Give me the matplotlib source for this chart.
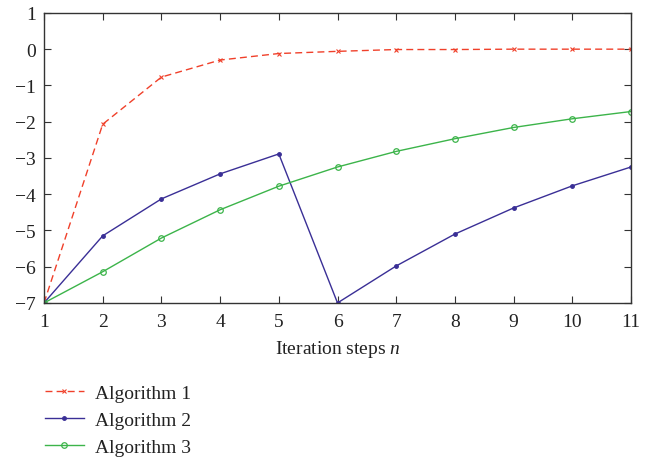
import numpy as np
import matplotlib.pyplot as plt

plt.rcParams['font.family'] = ['Liberation Serif', 'DejaVu Serif']
plt.rcParams['mathtext.fontset'] = 'custom'
plt.rcParams['mathtext.it'] = 'Liberation Serif:italic'

steps = np.arange(1, 12)
algo1 = [-7.0, -2.07, -0.77, -0.30, -0.12, -0.06, -0.01, -0.01, 0.0, 0.0, 0.0]
algo2 = [-7.0, -5.15, -4.13, -3.44, -2.89, -7.0, -5.98, -5.10, -4.38, -3.77, -3.25]
algo3 = [-7.0, -6.14, -5.21, -4.43, -3.78, -3.25, -2.82, -2.47, -2.16, -1.92, -1.72]

fig = plt.figure(figsize=(6.51, 4.64), dpi=100)
ax = fig.add_axes([0.0676, 0.345, 0.9017, 0.625])

l1, = ax.plot(steps, algo1, color='#f0402a', ls=(0, (5, 3)), lw=1.0,
              marker='x', ms=3, mew=0.8, label='Algorithm 1')
l2, = ax.plot(steps, algo2, color='#3a2f96', lw=1.0,
              marker='o', ms=2.5, label='Algorithm 2')
l3, = ax.plot(steps, algo3, color='#3cb44a', lw=1.0,
              marker='o', ms=4, mfc='none', mew=0.9, label='Algorithm 3')

ax.set_xlim(1, 11)
ax.set_ylim(-7, 1)
ax.set_xticks(steps)
ax.set_yticks(np.arange(-7, 2))
ax.set_yticklabels(['\u22127', '\u22126', '\u22125', '\u22124', '\u22123',
                    '\u22122', '\u22121', '0', '1'])
ax.tick_params(direction='in', top=True, right=True, labelsize=14,
               length=5, width=0.8, color='#333333', labelcolor='#222222')
ax.tick_params(axis='x', pad=7)
ax.tick_params(axis='y', pad=6)
for s in ax.spines.values():
    s.set_linewidth(1.0)
    s.set_color('#333333')
ax.set_xlabel('Iteration steps $n$', fontsize=14, color='#222222', labelpad=6)

fig.legend(handles=[l1, l2, l3], loc='upper left', bbox_to_anchor=(0.042, 0.208),
           frameon=False, fontsize=14, handlelength=2.0, handletextpad=0.6,
           labelspacing=0.5, labelcolor='#222222')

fig.savefig('out.png', dpi=100)
